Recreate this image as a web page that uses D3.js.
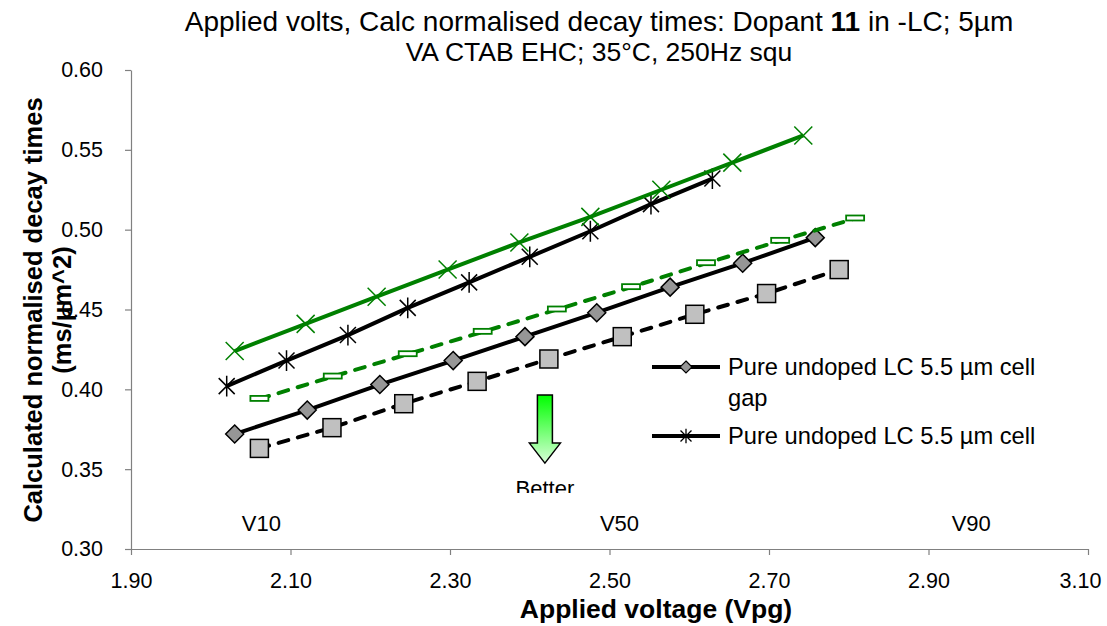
<!DOCTYPE html>
<html><head><meta charset="utf-8">
<script src="https://cdn.jsdelivr.net/npm/d3@7/dist/d3.min.js"></script>
<style>
html,body{margin:0;padding:0;background:#fff;}
svg{display:block;font-family:"Liberation Sans",Arial,sans-serif;}
</style></head>
<body>
<svg id="chart" width="1107" height="626"></svg>
<script>
// ---- data ----
const titleLine1 = ["Applied volts, Calc normalised decay times: Dopant ", "11", " in -LC; 5µm"];
const titleLine2 = "VA CTAB EHC; 35°C, 250Hz squ";
const xAxisTitle = "Applied voltage (Vpg)";
const yAxisTitle = ["Calculated normalised decay times", "(ms/µm^2)"];
const xTicks = [1.90, 2.10, 2.30, 2.50, 2.70, 2.90, 3.10];
const yTicks = [0.30, 0.35, 0.40, 0.45, 0.50, 0.55, 0.60];

const greenCrossVolts = [2.030, 2.119, 2.208, 2.297, 2.387, 2.476, 2.565, 2.654, 2.743];
const greenCrossDecay = [0.424, 0.441, 0.458, 0.475, 0.492, 0.508, 0.525, 0.542, 0.559];

const starVolts = [2.020, 2.095, 2.172, 2.247, 2.324, 2.400, 2.476, 2.552, 2.629];
const starDecay = [0.402, 0.418, 0.434, 0.451, 0.467, 0.483, 0.499, 0.516, 0.532];

const greenDashVolts = [2.061, 2.153, 2.247, 2.341, 2.434, 2.527, 2.621, 2.714, 2.808];
const greenDashDecay = [0.394, 0.408, 0.422, 0.436, 0.450, 0.464, 0.479, 0.493, 0.507];

const diamondVolts = [2.030, 2.121, 2.212, 2.304, 2.394, 2.484, 2.576, 2.667, 2.758];
const diamondDecay = [0.372, 0.387, 0.403, 0.418, 0.433, 0.448, 0.464, 0.479, 0.495];

const squareVolts = [2.061, 2.152, 2.242, 2.334, 2.424, 2.516, 2.607, 2.697, 2.788];
const squareDecay = [0.363, 0.376, 0.391, 0.405, 0.419, 0.433, 0.447, 0.460, 0.475];

const legendNames = ["Pure undoped LC 5.5 µm cell gap", "Pure undoped LC 5.5 µm cell gap"];
const vLabels = ["V10", "V50", "V90"];
const vLabelVolts = [2.039, 2.488, 2.929];
const vLabelDecay = 0.311;
const arrowVolt = 2.419, arrowTop = 0.3964, arrowTip = 0.3538;
const betterText = "Better";

// ---- layout ----
const svg = d3.select("#chart");
const L = 131, R = 1088, T = 70, B = 549;
const x = d3.scaleLinear().domain([1.9, 3.1]).range([L, R]);
const y = d3.scaleLinear().domain([0.3, 0.6]).range([B, T]);
const GREEN = "#008000";

// title
const t1 = svg.append("text").attr("x", 599).attr("y", 31).attr("text-anchor", "middle")
  .style("font-size", "28px").attr("fill", "#000");
titleLine1.forEach((s, i) => t1.append("tspan").text(s).style("font-weight", i === 1 ? "bold" : "normal"));
svg.append("text").attr("x", 599).attr("y", 61).attr("text-anchor", "middle")
  .style("font-size", "26.5px").text(titleLine2);

// axes
const fmt = d3.format(".2f");
const gx = svg.append("g").attr("transform", `translate(0,${B})`)
  .call(d3.axisBottom(x).tickValues(xTicks).tickFormat(fmt).tickSize(6).tickSizeOuter(0).tickPadding(18));
const gy = svg.append("g").attr("transform", `translate(${L},0)`)
  .call(d3.axisLeft(y).tickValues(yTicks).tickFormat(fmt).tickSize(6).tickSizeOuter(0).tickPadding(22));
[gx, gy].forEach(g => {
  g.select(".domain").attr("stroke", "#808080").attr("stroke-width", 1.2);
  g.selectAll(".tick line").attr("stroke", "#808080").attr("stroke-width", 1.2);
  g.selectAll(".tick text").style("font-size", "21.5px").style("font-family", "'Liberation Sans', Arial, sans-serif").attr("fill", "#000");
});
// keep the last x tick label inside the picture
gx.selectAll(".tick text").filter(d => d === xTicks[xTicks.length - 1]).attr("dx", -8);

// axis titles
svg.append("text").attr("x", 656).attr("y", 618).attr("text-anchor", "middle")
  .style("font-size", "26.5px").style("font-weight", "bold").text(xAxisTitle);
const yt = svg.append("text").attr("transform", "translate(42,310) rotate(-90)")
  .attr("text-anchor", "middle").style("font-size", "25.5px").style("font-weight", "bold");
yt.append("tspan").attr("x", 0).attr("dy", 0).text(yAxisTitle[0]);
yt.append("tspan").attr("x", 0).attr("dy", 29).text(yAxisTitle[1]);

// V labels
vLabels.forEach((s, i) => svg.append("text").attr("x", x(vLabelVolts[i])).attr("y", y(vLabelDecay))
  .style("font-size", "22px").text(s));

// series helpers
const zip = (xs, ys) => xs.map((v, i) => [v, ys[i]]);
const line = d3.line().x(d => x(d[0])).y(d => y(d[1]));
function drawLine(data, color, dash) {
  svg.append("path").datum(data).attr("d", line).attr("fill", "none")
    .attr("stroke", color).attr("stroke-width", 4).attr("stroke-dasharray", dash || null)
    .attr("stroke-linecap", dash ? "round" : "butt");
}
function crossPath(cx, cy, r) { return `M${cx-r},${cy-r}L${cx+r},${cy+r}M${cx-r},${cy+r}L${cx+r},${cy-r}`; }
function starPath(cx, cy, r) { return crossPath(cx, cy, r) + `M${cx},${cy-r*1.3}L${cx},${cy+r*1.3}`; }
function diamondPath(cx, cy, r) { return `M${cx},${cy-r}L${cx+r},${cy}L${cx},${cy+r}L${cx-r},${cy}Z`; }

const sq = zip(squareVolts, squareDecay);
const dia = zip(diamondVolts, diamondDecay);
const gd = zip(greenDashVolts, greenDashDecay);
const st = zip(starVolts, starDecay);
const gc = zip(greenCrossVolts, greenCrossDecay);

// squares dashed black
drawLine(sq, "#000", "10,10");
sq.forEach(d => svg.append("rect").attr("x", x(d[0]) - 9).attr("y", y(d[1]) - 9).attr("width", 18).attr("height", 18)
  .attr("fill", "#c0c0c0").attr("stroke", "#000").attr("stroke-width", 1.5));
// diamonds solid black
drawLine(dia, "#000");
dia.forEach(d => svg.append("path").attr("d", diamondPath(x(d[0]), y(d[1]), 9))
  .attr("fill", "#969696").attr("stroke", "#000").attr("stroke-width", 1.5));
// green dashed with dash markers
drawLine(gd, GREEN, "10,10");
gd.forEach(d => svg.append("rect").attr("x", x(d[0]) - 9).attr("y", y(d[1]) - 3).attr("width", 18).attr("height", 5)
  .attr("fill", "#fff").attr("stroke", GREEN).attr("stroke-width", 1.8));
// star black
drawLine(st, "#000");
st.forEach(d => svg.append("path").attr("d", starPath(x(d[0]), y(d[1]), 8))
  .attr("fill", "none").attr("stroke", "#000").attr("stroke-width", 1.5));
// green cross
drawLine(gc, GREEN);
gc.forEach(d => svg.append("path").attr("d", crossPath(x(d[0]), y(d[1]), 9))
  .attr("fill", "none").attr("stroke", GREEN).attr("stroke-width", 1.5));

// legend (clipped)
const defs = svg.append("defs");
defs.append("clipPath").attr("id", "legclip").append("rect").attr("x", 640).attr("y", 340).attr("width", 467).attr("height", 120);
const leg = svg.append("g").attr("clip-path", "url(#legclip)");
const legY = [367, 436];
legendNames.forEach((name, i) => {
  const ly = legY[i];
  leg.append("line").attr("x1", 652).attr("x2", 720).attr("y1", ly).attr("y2", ly).attr("stroke", "#000").attr("stroke-width", 4);
  if (i === 0) leg.append("path").attr("d", diamondPath(686, ly, 6)).attr("fill", "#969696").attr("stroke", "#000").attr("stroke-width", 1.2);
  else leg.append("path").attr("d", starPath(686, ly, 5.5)).attr("fill", "none").attr("stroke", "#000").attr("stroke-width", 1.3);
  const words = name.split(" ");
  const tx = leg.append("text").attr("x", 728).attr("y", ly + 8).style("font-size", "23.7px");
  tx.append("tspan").attr("x", 728).text(words.slice(0, -1).join(" "));
  tx.append("tspan").attr("x", 728).attr("dy", 31).text(words[words.length - 1]);
});

// arrow with gradient
const grad = defs.append("linearGradient").attr("id", "agrad").attr("x1", 0).attr("y1", 0).attr("x2", 0).attr("y2", 1);
grad.append("stop").attr("offset", "0%").attr("stop-color", "#00ff00");
grad.append("stop").attr("offset", "100%").attr("stop-color", "#d8ffd8");
const ax = x(arrowVolt), aT = y(arrowTop), aTip = y(arrowTip);
const headH = 20, sw = 7.5, hw = 15.5;
svg.append("path")
  .attr("d", `M${ax-sw},${aT}L${ax+sw},${aT}L${ax+sw},${aTip-headH}L${ax+hw},${aTip-headH}L${ax},${aTip}L${ax-hw},${aTip-headH}L${ax-sw},${aTip-headH}Z`)
  .attr("fill", "url(#agrad)").attr("stroke", "#000").attr("stroke-width", 1.5);
defs.append("clipPath").attr("id", "bclip").append("rect").attr("x", ax - 70).attr("y", aTip + 5).attr("width", 140).attr("height", 25);
svg.append("text").attr("clip-path", "url(#bclip)").attr("x", ax).attr("y", aTip + 33).attr("text-anchor", "middle")
  .style("font-size", "22px").text(betterText);
</script>
</body></html>
